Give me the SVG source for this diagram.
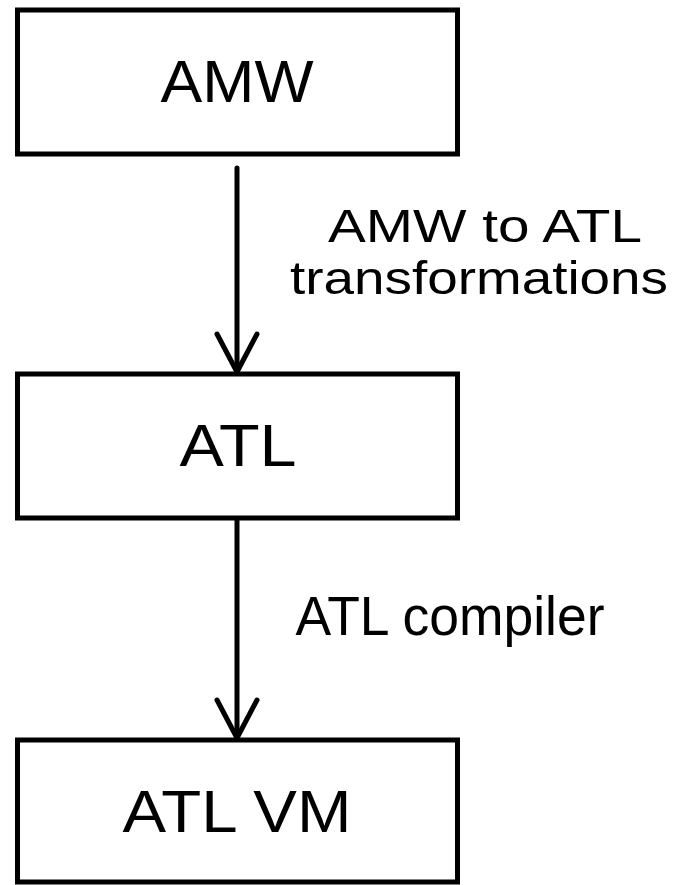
<svg xmlns="http://www.w3.org/2000/svg" width="677" height="885" viewBox="0 0 677 885">
<style>
.box{fill:#fff;stroke:#000;stroke-width:5}
.t{font-family:"Liberation Sans","Open Sans",sans-serif;font-size:60px;fill:#000}
.l{font-family:"Liberation Sans","Open Sans",sans-serif;font-size:46px;fill:#000}
.c{stroke:#000;stroke-width:5;fill:none;stroke-linecap:round;stroke-linejoin:round}
</style>
<rect width="677" height="885" fill="#fff"/>
<g id="connectors">
<line class="c" x1="237" y1="168" x2="237" y2="372"/>
<polyline class="c" points="217,334 237,372 257,334"/>
<line class="c" x1="237" y1="520" x2="237" y2="738"/>
<polyline class="c" points="217,700 237,738 257,700"/>
<text class="l" x="485" y="242" text-anchor="middle" textLength="314" lengthAdjust="spacingAndGlyphs">AMW to ATL</text>
<text class="l" x="479" y="294" text-anchor="middle" textLength="378" lengthAdjust="spacingAndGlyphs">transformations</text>
<text class="l" x="450" y="635" text-anchor="middle" textLength="309" lengthAdjust="spacingAndGlyphs" style="font-size:56px">ATL compiler</text>
</g>
<g id="amw">
<rect class="box" x="17.5" y="10" width="440" height="144"/>
<text class="t" x="237" y="102" text-anchor="middle" textLength="153" lengthAdjust="spacingAndGlyphs">AMW</text>
</g>
<g id="atl">
<rect class="box" x="17.5" y="374" width="440" height="144"/>
<text class="t" x="238" y="466" text-anchor="middle" textLength="117" lengthAdjust="spacingAndGlyphs">ATL</text>
</g>
<g id="atlvm">
<rect class="box" x="17.5" y="740" width="440" height="142"/>
<text class="t" x="237" y="832" text-anchor="middle" textLength="229" lengthAdjust="spacingAndGlyphs">ATL VM</text>
</g>
</svg>
